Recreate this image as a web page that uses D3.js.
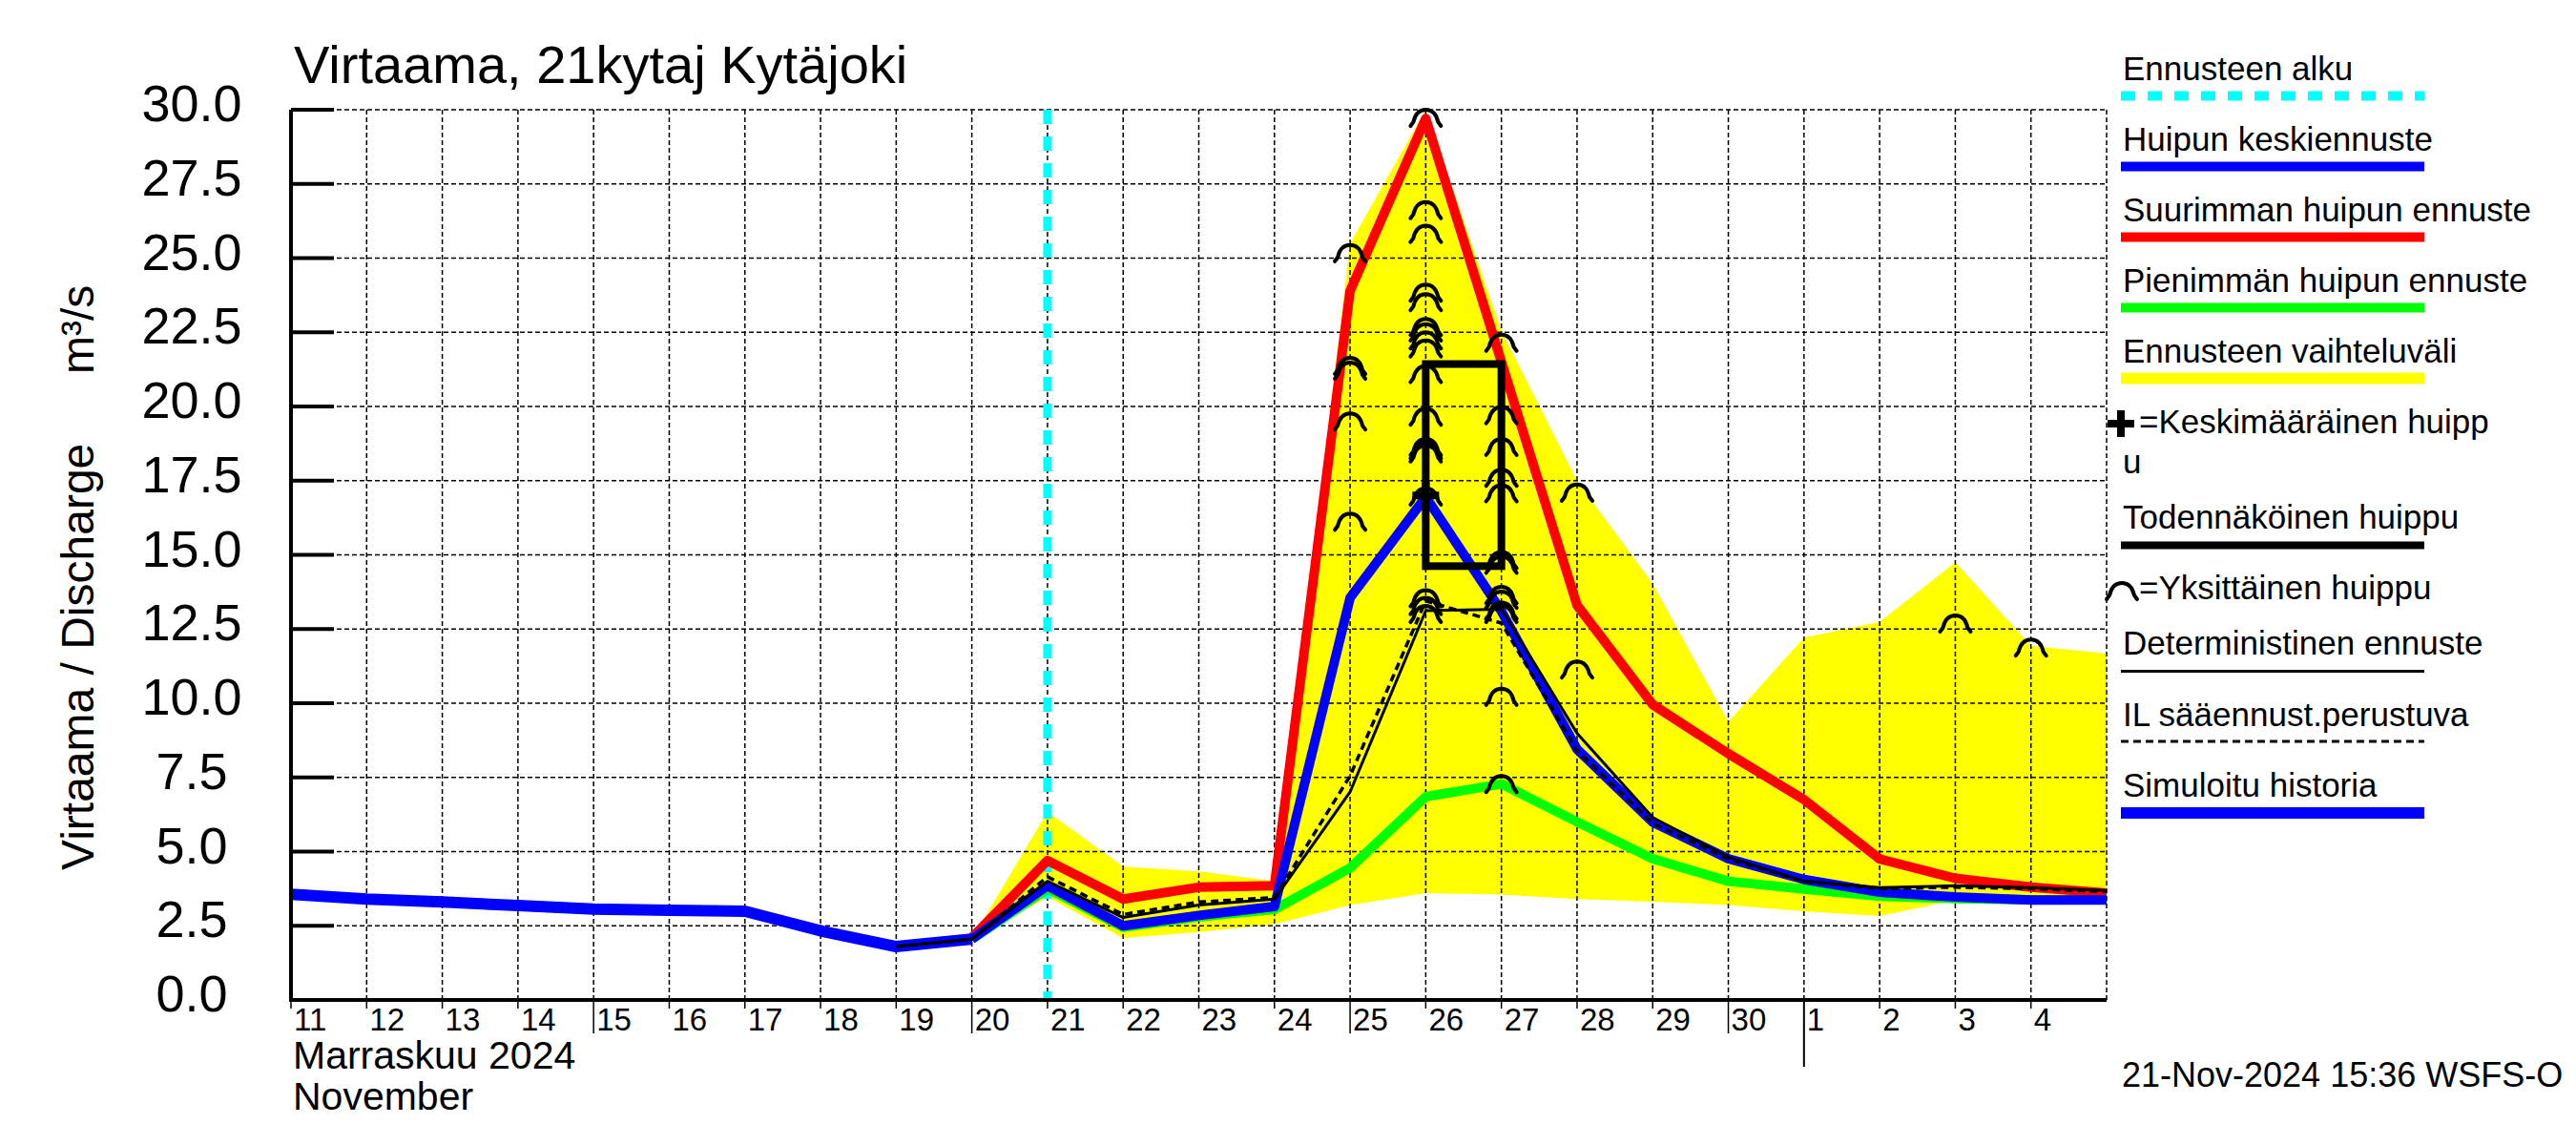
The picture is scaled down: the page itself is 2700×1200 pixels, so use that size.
<!DOCTYPE html>
<html>
<head>
<meta charset="utf-8">
<script src="https://cdn.jsdelivr.net/npm/d3@7"></script>
<style>
  body { margin: 0; background: #fff; }
  svg { display: block; font-family: "Liberation Sans", Arial, sans-serif; }
</style>
</head>
<body>
<svg id="chart" width="2700" height="1200"></svg>
<script>
// Virtaama-ennuste 21kytaj Kytäjoki — hydrograph with forecast range

const histDays = ['2024-11-11', '2024-11-12', '2024-11-13', '2024-11-14', '2024-11-15',
    '2024-11-16', '2024-11-17', '2024-11-18', '2024-11-19', '2024-11-20'];
const histFlow = [3.56, 3.40, 3.30, 3.18, 3.06, 3.02, 2.99, 2.33, 1.80, 2.05];

const fcDays = ['2024-11-20', '2024-11-21', '2024-11-22', '2024-11-23', '2024-11-24',
    '2024-11-25', '2024-11-26', '2024-11-27', '2024-11-28', '2024-11-29', '2024-11-30',
    '2024-12-01', '2024-12-02', '2024-12-03', '2024-12-04', '2024-12-05'];
const maxPeakFlow  = [2.10, 4.70, 3.40, 3.80, 3.85, 23.9, 29.7, 21.5, 13.3, 9.95, 8.30, 6.75, 4.75, 4.10, 3.80, 3.60];
const meanPeakFlow = [2.05, 3.85, 2.50, 2.85, 3.15, 13.55, 16.95, 13.1, 8.45, 5.99, 4.76, 4.06, 3.63, 3.47, 3.37, 3.37];
const minPeakFlow  = [2.05, 3.75, 2.45, 2.80, 3.05, 4.45, 6.85, 7.28, 6.00, 4.76, 4.00, 3.74, 3.50, 3.42, 3.38, 3.38];
const rangeHigh    = [2.05, 6.34, 4.49, 4.33, 4.00, 25.5, 30.0, 22.55, 17.5, 14.03, 9.37, 12.21, 12.74, 14.75, 11.94, 11.67];
const rangeLow     = [2.05, 3.47, 2.08, 2.29, 2.56, 3.20, 3.60, 3.55, 3.40, 3.31, 3.20, 2.99, 2.83, 3.37, 3.30, 3.30];

const detDays = ['2024-11-19'].concat(fcDays);
const detFlow = [1.80, 2.05, 4.00, 2.78, 3.20, 3.40, 7.01, 13.12, 13.17, 8.99, 6.15, 4.81, 4.00, 3.79, 3.85, 3.79, 3.69];
const ilFlow  = [1.80, 2.05, 4.15, 2.88, 3.30, 3.45, 7.55, 13.45, 12.70, 8.40, 5.95, 4.75, 4.00, 3.75, 3.80, 3.75, 3.65];

// single ensemble peaks
const peakDays = [
    '2024-11-25', '2024-11-25', '2024-11-25', '2024-11-25', '2024-11-25',
    '2024-11-26', '2024-11-26', '2024-11-26', '2024-11-26', '2024-11-26', '2024-11-26',
    '2024-11-26', '2024-11-26', '2024-11-26', '2024-11-26', '2024-11-26', '2024-11-26',
    '2024-11-26', '2024-11-26', '2024-11-26', '2024-11-26', '2024-11-26', '2024-11-26',
    '2024-11-27', '2024-11-27', '2024-11-27', '2024-11-27', '2024-11-27', '2024-11-27',
    '2024-11-27', '2024-11-27', '2024-11-27', '2024-11-27', '2024-11-27', '2024-11-27', '2024-11-27',
    '2024-11-28', '2024-11-28', '2024-12-03', '2024-12-04'];
const peakFlow = [
    25.44, 21.64, 21.48, 19.77, 16.39,
    30.0, 26.89, 26.09, 24.11, 23.79, 22.95,
    22.77, 22.5, 22.23, 21.37, 19.93, 18.91,
    18.8, 18.69, 17.24, 13.81, 13.55, 13.28,
    22.42, 19.98, 18.91, 17.87, 17.35, 15.1,
    14.94, 13.92, 13.76, 13.39, 13.28, 10.49, 7.55,
    17.37, 11.41, 12.96, 12.15];

const meanPeakDay = '2024-11-26';
const meanPeakValue = 17.0;
const likelyPeakDays = ['2024-11-26', '2024-11-27'];
const likelyPeakRange = [14.62, 21.43];
const forecastStart = '2024-11-21';

const yTicks = [0, 2.5, 5, 7.5, 10, 12.5, 15, 17.5, 20, 22.5, 25, 27.5, 30];
const midTickDays = [15, 20, 25, 30];

const legendLabels = ['Ennusteen alku', 'Huipun keskiennuste', 'Suurimman huipun ennuste',
    'Pienimmän huipun ennuste', 'Ennusteen vaihteluväli'];
const legendColors = ['#00ffff', '#0000ff', '#ff0000', '#00ff00', '#ffff00'];

const parse = d3.utcParse('%Y-%m-%d');

const svg = d3.select('#chart');
svg.append('rect').attr('width', 2700).attr('height', 1200).attr('fill', '#fff');

const x = d3.scaleUtc()
    .domain([parse('2024-11-11'), parse('2024-12-05')])
    .range([305, 2208]);
const y = d3.scaleLinear().domain([0, 30]).range([1048, 115]);

const plot = svg.append('g');

// forecast range
const band = fcDays.map((d, i) => ({ d: parse(d), lo: rangeLow[i], hi: rangeHigh[i] }));
plot.append('path')
    .datum(band)
    .attr('fill', '#ffff00')
    .attr('d', d3.area().x(p => x(p.d)).y0(p => y(p.lo)).y1(p => y(p.hi)));

// grid
const days = d3.utcDay.range(parse('2024-11-12'), d3.utcDay.offset(parse('2024-12-05'), 1));
plot.selectAll('.vgrid').data(days).enter().append('line')
    .attr('x1', d => x(d)).attr('x2', d => x(d))
    .attr('y1', y(30)).attr('y2', y(0))
    .attr('stroke', '#000').attr('stroke-width', 1.5).attr('stroke-dasharray', '5,3');
plot.selectAll('.hgrid').data(yTicks.filter(v => v > 0)).enter().append('line')
    .attr('x1', x.range()[0]).attr('x2', x.range()[1])
    .attr('y1', d => y(d)).attr('y2', d => y(d))
    .attr('stroke', '#000').attr('stroke-width', 1.5).attr('stroke-dasharray', '5,3');

// forecast start
plot.append('line')
    .attr('x1', x(parse(forecastStart))).attr('x2', x(parse(forecastStart)))
    .attr('y1', y(30)).attr('y2', y(0))
    .attr('stroke', '#00ffff').attr('stroke-width', 9).attr('stroke-dasharray', '15,13');

const line = d3.line().x(p => x(p[0])).y(p => y(p[1]));
function drawSeries(dates, values, color, width, dash) {
    const pts = dates.map((d, i) => [parse(d), values[i]]);
    plot.append('path')
        .datum(pts)
        .attr('fill', 'none')
        .attr('stroke', color)
        .attr('stroke-width', width)
        .attr('stroke-linejoin', 'round')
        .attr('stroke-dasharray', dash || null)
        .attr('d', line);
}

drawSeries(fcDays, minPeakFlow, '#00ff00', 10);
drawSeries(fcDays, maxPeakFlow, '#ff0000', 10);
drawSeries(histDays, histFlow, '#0000ff', 12);
drawSeries(fcDays, meanPeakFlow, '#0000ff', 10);
drawSeries(detDays, detFlow, '#000', 3);
drawSeries(detDays, ilFlow, '#000', 3.5, '8,5');

// likely peak box
plot.append('rect')
    .attr('x', x(parse(likelyPeakDays[0])))
    .attr('y', y(likelyPeakRange[1]))
    .attr('width', x(parse(likelyPeakDays[1])) - x(parse(likelyPeakDays[0])))
    .attr('height', y(likelyPeakRange[0]) - y(likelyPeakRange[1]))
    .attr('fill', 'none').attr('stroke', '#000').attr('stroke-width', 8);

// single peaks: flared cap, apex at the value
const arcPath = (cx, cy) =>
    `M${cx - 16},${cy + 17} L${cx - 13},${cy + 13} C${cx - 11},${cy + 4} ${cx - 6},${cy} ${cx},${cy} ` +
    `C${cx + 6},${cy} ${cx + 11},${cy + 4} ${cx + 13},${cy + 13} L${cx + 16},${cy + 17}`;
plot.selectAll('.peak').data(peakDays.map((d, i) => [parse(d), peakFlow[i]])).enter()
    .append('path')
    .attr('d', p => arcPath(x(p[0]), y(p[1])))
    .attr('fill', 'none').attr('stroke', '#000').attr('stroke-width', 4)
    .attr('stroke-linecap', 'round');

// mean peak cross
const plusPath = (cx, cy) => `M${cx - 14},${cy} H${cx + 14} M${cx},${cy - 14} V${cy + 14}`;
plot.append('path')
    .attr('d', plusPath(x(parse(meanPeakDay)), y(meanPeakValue)))
    .attr('stroke', '#000').attr('stroke-width', 8);

// axes
svg.append('line').attr('x1', 305).attr('x2', 305).attr('y1', y(30)).attr('y2', y(0) + 2)
    .attr('stroke', '#000').attr('stroke-width', 4);
svg.append('line').attr('x1', 303).attr('x2', x.range()[1]).attr('y1', y(0)).attr('y2', y(0))
    .attr('stroke', '#000').attr('stroke-width', 4);

svg.selectAll('.ytick').data(yTicks).enter().append('line')
    .attr('x1', 305).attr('x2', 350)
    .attr('y1', d => y(d)).attr('y2', d => y(d))
    .attr('stroke', '#000').attr('stroke-width', 4);
svg.selectAll('.ylab').data(yTicks).enter().append('text')
    .attr('x', 201).attr('y', d => y(d) + 12)
    .attr('text-anchor', 'middle')
    .attr('font-size', 54)
    .text(d => d.toFixed(1));

const allDays = d3.utcDay.range(parse('2024-11-11'), parse('2024-12-05'));
svg.selectAll('.xtick').data(allDays).enter().append('line')
    .attr('x1', d => x(d)).attr('x2', d => x(d))
    .attr('y1', y(0))
    .attr('y2', d => {
        if (d.getUTCDate() === 1) return y(0) + 70;
        if (midTickDays.includes(d.getUTCDate())) return y(0) + 35;
        return y(0) + 9;
    })
    .attr('stroke', '#000').attr('stroke-width', d => d.getUTCDate() === 1 ? 2 : 1.5);
svg.selectAll('.xlab').data(allDays).enter().append('text')
    .attr('x', d => x(d) + 3).attr('y', 1080)
    .attr('font-size', 33)
    .text(d3.utcFormat('%-d'));

svg.append('text').attr('x', 307).attr('y', 1120).attr('font-size', 41).text('Marraskuu 2024');
svg.append('text').attr('x', 307).attr('y', 1163).attr('font-size', 41).text('November');

// titles
svg.append('text').attr('x', 308).attr('y', 87).attr('font-size', 56)
    .text('Virtaama, 21kytaj Kytäjoki');
svg.append('text')
    .attr('transform', 'translate(98,912) rotate(-90)')
    .attr('font-size', 48)
    .text('Virtaama / Discharge');
svg.append('text')
    .attr('transform', 'translate(98,392) rotate(-90)')
    .attr('font-size', 48)
    .text('m³/s');

// legend
const lg = svg.append('g').attr('font-size', 35);
const lx0 = 2223, lx1 = 2541;
legendLabels.forEach((t, i) => {
    const by = 83.5 + i * 74;
    lg.append('text').attr('x', 2225).attr('y', by).text(t);
    lg.append('line')
        .attr('x1', lx0).attr('x2', lx1)
        .attr('y1', by + 17).attr('y2', by + 17)
        .attr('stroke', legendColors[i])
        .attr('stroke-width', i === 4 ? 12 : 10)
        .attr('stroke-dasharray', i === 0 ? '15,13' : null);
});

lg.append('path').attr('d', plusPath(2223, 444)).attr('stroke', '#000').attr('stroke-width', 8);
lg.append('text').attr('x', 2242).attr('y', 454).text('=Keskimääräinen huipp');
lg.append('text').attr('x', 2225).attr('y', 496).text('u');

lg.append('text').attr('x', 2225).attr('y', 553.6).text('Todennäköinen huippu');
lg.append('line').attr('x1', lx0).attr('x2', lx1).attr('y1', 571.6).attr('y2', 571.6)
    .attr('stroke', '#000').attr('stroke-width', 8);

lg.append('path').attr('d', arcPath(2224, 611)).attr('fill', 'none')
    .attr('stroke', '#000').attr('stroke-width', 4).attr('stroke-linecap', 'round');
lg.append('text').attr('x', 2242).attr('y', 628).text('=Yksittäinen huippu');

lg.append('text').attr('x', 2225).attr('y', 686).text('Deterministinen ennuste');
lg.append('line').attr('x1', lx0).attr('x2', lx1).attr('y1', 703.5).attr('y2', 703.5)
    .attr('stroke', '#000').attr('stroke-width', 3);

lg.append('text').attr('x', 2225).attr('y', 761).text('IL sääennust.perustuva');
lg.append('line').attr('x1', lx0).attr('x2', lx1).attr('y1', 777).attr('y2', 777)
    .attr('stroke', '#000').attr('stroke-width', 3).attr('stroke-dasharray', '8,5');

lg.append('text').attr('x', 2225).attr('y', 835).text('Simuloitu historia');
lg.append('line').attr('x1', lx0).attr('x2', lx1).attr('y1', 852).attr('y2', 852)
    .attr('stroke', '#0000ff').attr('stroke-width', 12);

svg.append('text').attr('x', 2224).attr('y', 1139).attr('font-size', 36)
    .text('21-Nov-2024 15:36 WSFS-O');
</script>
</body>
</html>
